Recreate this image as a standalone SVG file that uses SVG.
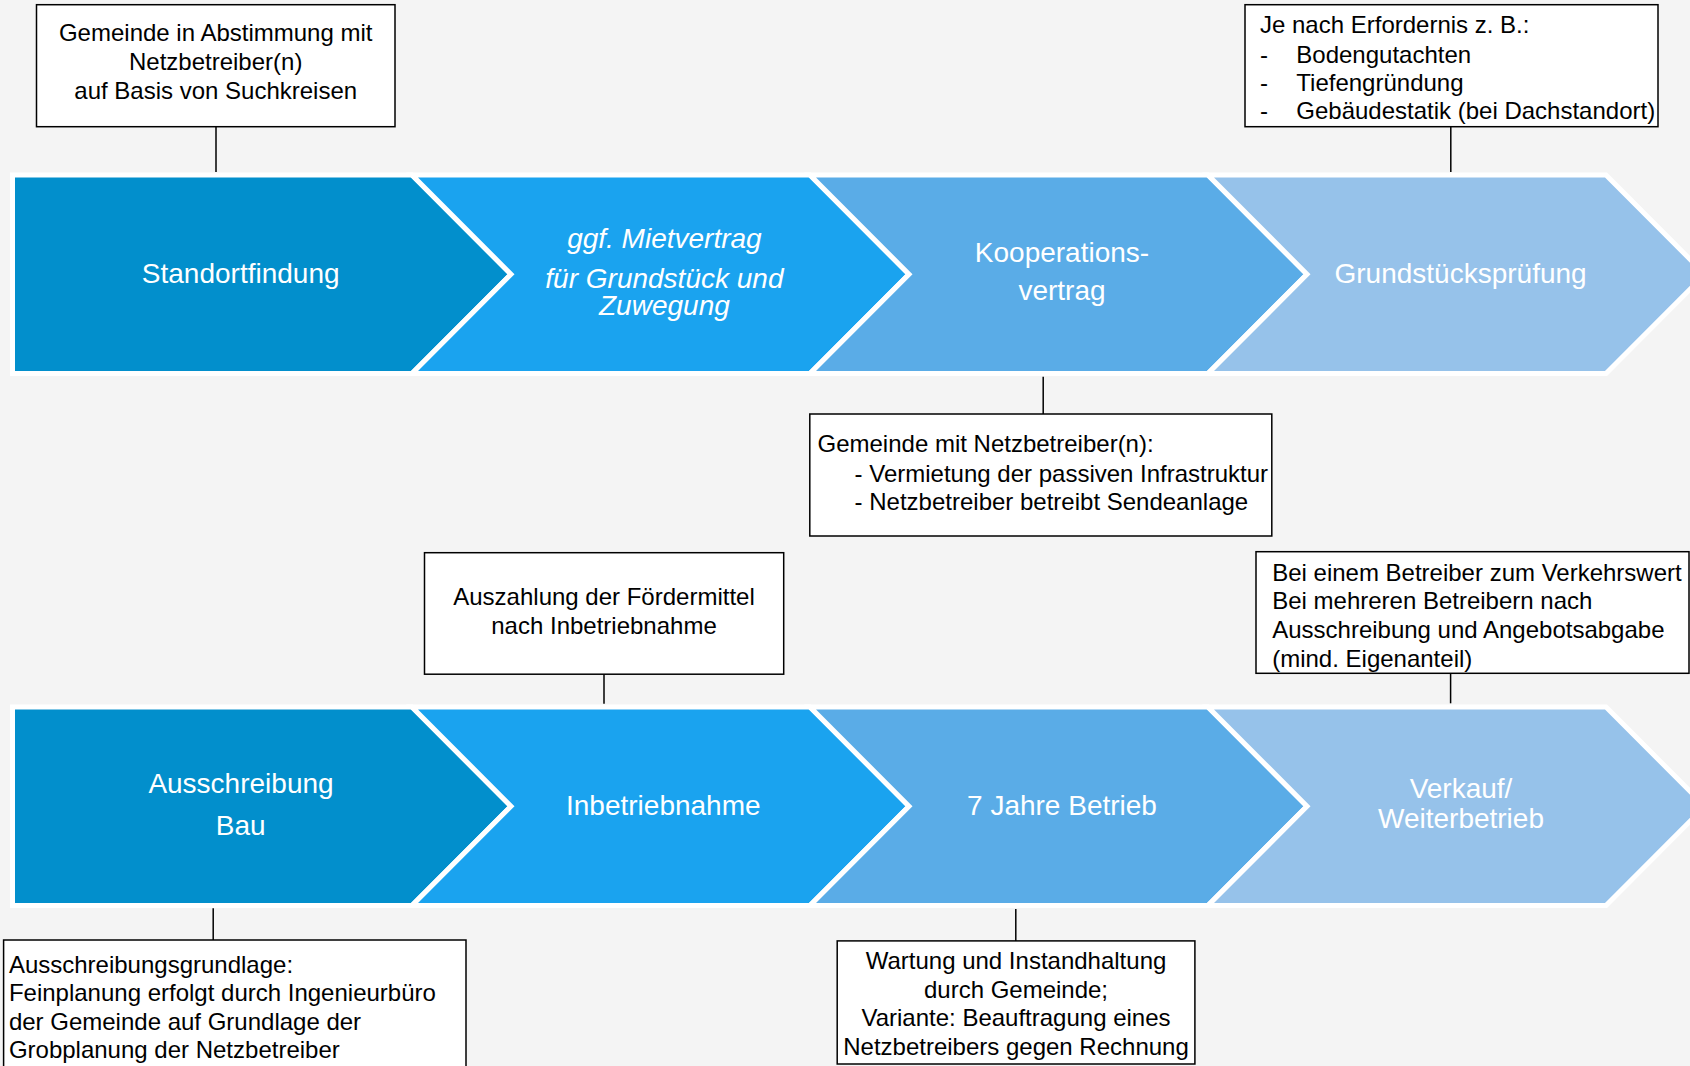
<svg xmlns="http://www.w3.org/2000/svg" width="1690" height="1066" viewBox="0 0 1690 1066">
<style>
.bg{fill:#F4F4F4}
.chev{stroke:#FFFFFF;stroke-width:5;stroke-linejoin:miter}
.k1{fill:#028FCC}.k2{fill:#1AA3EF}.k3{fill:#5AACE7}.k4{fill:#96C2EA}
.ct{font-family:"Liberation Sans",Arial,sans-serif;font-size:28px;fill:#FFFFFF;text-anchor:middle}
.it{font-style:italic}
.box{fill:#FFFFFF;stroke:#000000;stroke-width:1.5}
.bt{font-family:"Liberation Sans",Arial,sans-serif;font-size:24px;fill:#000000}
.mid{text-anchor:middle}
.conn line{stroke:#000000;stroke-width:1.5}
</style>
<rect class="bg" x="0" y="0" width="1690" height="1066"/>

<g id="standortfindung">
<path class="chev k1" d="M12.5,175 H412 L511,274.25 L412,373.5 H12.5 Z"/>
<text class="ct" x="240.7" y="283.3">Standortfindung</text>
</g>
<g id="mietvertrag">
<path class="chev k2" d="M412,175 H810 L909,274.25 L810,373.5 H412 L511,274.25 Z"/>
<text class="ct it" x="664.4" y="248.3">ggf. Mietvertrag</text>
<text class="ct it" x="664.4" y="288.3">für Grundstück und</text>
<text class="ct it" x="664.4" y="315">Zuwegung</text>
</g>
<g id="kooperationsvertrag">
<path class="chev k3" d="M810,175 H1208 L1307,274.25 L1208,373.5 H810 L909,274.25 Z"/>
<text class="ct" x="1062" y="261.7">Kooperations-</text>
<text class="ct" x="1062" y="300">vertrag</text>
</g>
<g id="grundstueckspruefung">
<path class="chev k4" d="M1208,175 H1606 L1705,274.25 L1606,373.5 H1208 L1307,274.25 Z"/>
<text class="ct" x="1460.6" y="283.3">Grundstücksprüfung</text>
</g>

<g id="ausschreibung">
<path class="chev k1" d="M12.5,707 H412 L511,806.25 L412,905.5 H12.5 Z"/>
<text class="ct" x="241" y="793.3">Ausschreibung</text>
<text class="ct" x="240.7" y="835.2">Bau</text>
</g>
<g id="inbetriebnahme">
<path class="chev k2" d="M412,707 H810 L909,806.25 L810,905.5 H412 L511,806.25 Z"/>
<text class="ct" x="663.3" y="815">Inbetriebnahme</text>
</g>
<g id="betrieb">
<path class="chev k3" d="M810,707 H1208 L1307,806.25 L1208,905.5 H810 L909,806.25 Z"/>
<text class="ct" x="1062" y="815">7 Jahre Betrieb</text>
</g>
<g id="verkauf">
<path class="chev k4" d="M1208,707 H1606 L1705,806.25 L1606,905.5 H1208 L1307,806.25 Z"/>
<text class="ct" x="1461" y="798.3">Verkauf/</text>
<text class="ct" x="1461" y="828.3">Weiterbetrieb</text>
</g>

<g id="note-standort">
<rect class="box" x="36.5" y="4.7" width="358.5" height="122"/>
<text class="bt mid" x="215.7" y="40.7">Gemeinde in Abstimmung mit</text>
<text class="bt mid" x="215.7" y="70">Netzbetreiber(n)</text>
<text class="bt mid" x="215.7" y="99">auf Basis von Suchkreisen</text>
</g>
<g id="note-grundstueck">
<rect class="box" x="1245" y="4.7" width="413" height="122"/>
<text class="bt" x="1260" y="33.3">Je nach Erfordernis z. B.:</text>
<text class="bt" x="1260" y="62.7">-</text>
<text class="bt" x="1296.3" y="62.7">Bodengutachten</text>
<text class="bt" x="1260" y="91">-</text>
<text class="bt" x="1296.3" y="91">Tiefengründung</text>
<text class="bt" x="1260" y="119.3">-</text>
<text class="bt" x="1296.3" y="119.3">Gebäudestatik (bei Dachstandort)</text>
</g>
<g id="note-kooperation">
<rect class="box" x="809.8" y="414" width="462" height="122"/>
<text class="bt" x="817.5" y="451.7">Gemeinde mit Netzbetreiber(n):</text>
<text class="bt" x="854.6" y="481.7">- Vermietung der passiven Infrastruktur</text>
<text class="bt" x="854.6" y="510">- Netzbetreiber betreibt Sendeanlage</text>
</g>
<g id="note-inbetriebnahme">
<rect class="box" x="424.5" y="552.7" width="359.2" height="121.5"/>
<text class="bt mid" x="604" y="605.4">Auszahlung der Fördermittel</text>
<text class="bt mid" x="604" y="633.9">nach Inbetriebnahme</text>
</g>
<g id="note-verkauf">
<rect class="box" x="1256" y="551.7" width="433" height="121.6"/>
<text class="bt" x="1272.2" y="580.7">Bei einem Betreiber zum Verkehrswert</text>
<text class="bt" x="1272.2" y="609.3">Bei mehreren Betreibern nach</text>
<text class="bt" x="1272.2" y="638.3">Ausschreibung und Angebotsabgabe</text>
<text class="bt" x="1272.2" y="666.7">(mind. Eigenanteil)</text>
</g>
<g id="note-ausschreibung">
<rect class="box" x="3.6" y="940" width="462.4" height="140"/>
<text class="bt" x="8.9" y="972.7">Ausschreibungsgrundlage:</text>
<text class="bt" x="8.9" y="1001.3">Feinplanung erfolgt durch Ingenieurbüro</text>
<text class="bt" x="8.9" y="1029.8">der Gemeinde auf Grundlage der</text>
<text class="bt" x="8.9" y="1058.3">Grobplanung der Netzbetreiber</text>
</g>
<g id="note-betrieb">
<rect class="box" x="837.2" y="940.9" width="357.7" height="123.1"/>
<text class="bt mid" x="1016" y="969.4">Wartung und Instandhaltung</text>
<text class="bt mid" x="1016" y="997.9">durch Gemeinde;</text>
<text class="bt mid" x="1016" y="1026.4">Variante: Beauftragung eines</text>
<text class="bt mid" x="1016" y="1054.9">Netzbetreibers gegen Rechnung</text>
</g>

<g id="connectors" class="conn">
<line x1="216" y1="126.7" x2="216" y2="172"/>
<line x1="1450.8" y1="126.7" x2="1450.8" y2="172"/>
<line x1="1043.2" y1="376.7" x2="1043.2" y2="414"/>
<line x1="604" y1="674.2" x2="604" y2="703.7"/>
<line x1="1450.6" y1="673.3" x2="1450.6" y2="703.3"/>
<line x1="213.2" y1="908.3" x2="213.2" y2="940"/>
<line x1="1015.8" y1="909" x2="1015.8" y2="940.9"/>
</g>
</svg>
